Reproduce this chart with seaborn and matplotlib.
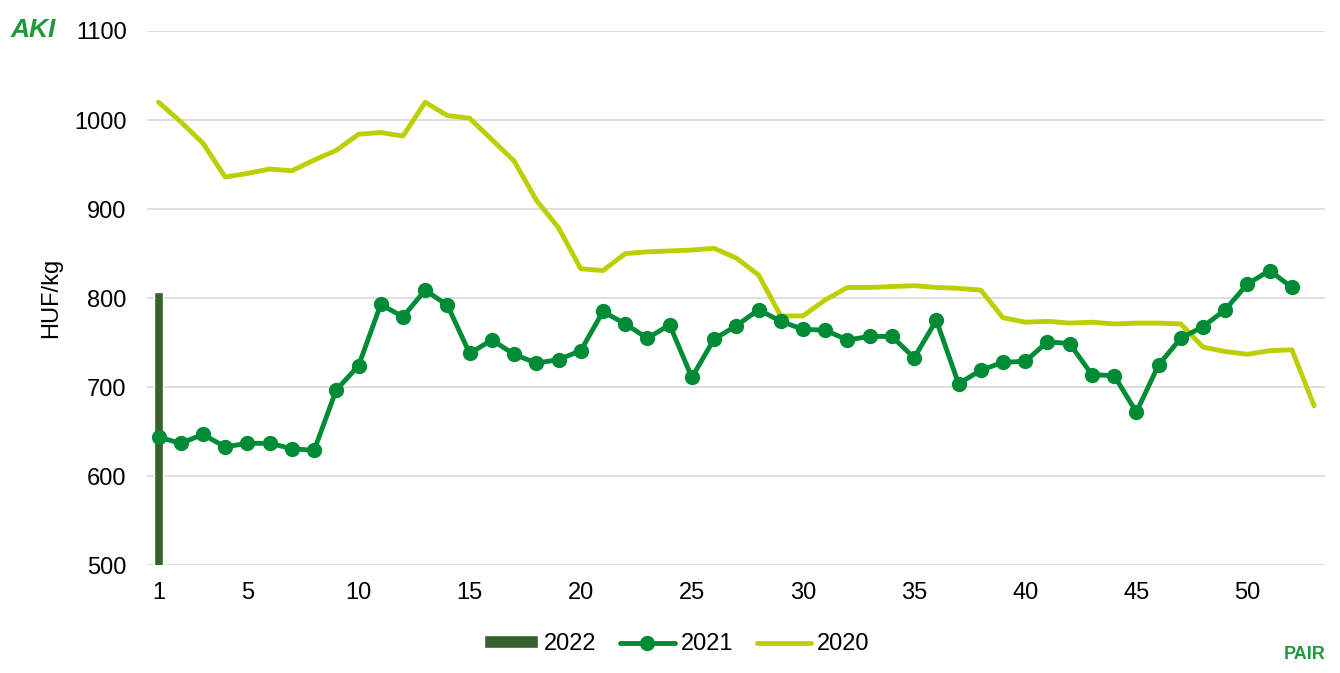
import matplotlib
matplotlib.use('Agg')
import matplotlib.pyplot as plt
import numpy as np
import pandas as pd
import seaborn as sns

weeks_2022 = [1]
price_2022 = [807]

weeks_2021 = list(range(1, 53))
price_2021 = [644, 637, 647, 633, 637, 637, 631, 629, 697, 724,
              793, 779, 809, 792, 738, 753, 737, 727, 731, 741,
              785, 771, 755, 770, 711, 754, 769, 787, 774, 765,
              764, 753, 757, 757, 733, 775, 704, 719, 728, 729,
              751, 749, 714, 713, 672, 725, 755, 768, 787, 816,
              831, 812]

weeks_2020 = list(range(1, 54))
price_2020 = [1020, 998, 974, 936, 940, 945, 943, 955, 966, 984,
              986, 982, 1020, 1005, 1002, 978, 954, 910, 879, 833,
              831, 850, 852, 853, 854, 856, 845, 826, 780, 780,
              798, 812, 812, 813, 814, 812, 811, 809, 778, 773,
              774, 772, 773, 771, 772, 772, 771, 745, 740, 737,
              741, 742, 679]

x_ticks = [1, 5, 10, 15, 20, 25, 30, 35, 40, 45, 50]
y_ticks = [500, 600, 700, 800, 900, 1000, 1100]

c2022 = '#37622C'
c2021 = '#008C37'
c2020 = '#BCCF02'

sns.set_style('white')
plt.rcParams['font.family'] = ['Liberation Sans', 'DejaVu Sans']
plt.rcParams['text.color'] = 'black'
plt.rcParams['xtick.color'] = 'black'
plt.rcParams['ytick.color'] = 'black'
plt.rcParams['axes.labelcolor'] = 'black'

df21 = pd.DataFrame({'week': weeks_2021, 'price': price_2021})
df20 = pd.DataFrame({'week': weeks_2020, 'price': price_2020})

fig = plt.figure(figsize=(13.4, 6.73), dpi=100)
ax = fig.add_axes([0.110, 0.160, 0.879, 0.794])

ax.bar(weeks_2022, price_2022, width=0.4, color=c2022, label='2022', zorder=3)
sns.lineplot(data=df21, x='week', y='price', ax=ax, color=c2021, linewidth=3.5,
             marker='o', markersize=11, markeredgewidth=0, label='2021', zorder=4)
sns.lineplot(data=df20, x='week', y='price', ax=ax, color=c2020, linewidth=3.5,
             label='2020', zorder=3)

ax.set_xlim(0.5, 53.5)
ax.set_ylim(500, 1100)
ax.set_xticks(x_ticks)
ax.set_yticks(y_ticks)
ax.grid(axis='y', color='#D9D9D9', linewidth=1.2, zorder=0)
ax.set_axisbelow(True)
for s in ax.spines.values():
    s.set_visible(False)
ax.tick_params(axis='y', length=0, pad=15, labelsize=17)
ax.tick_params(axis='x', length=0, pad=12, labelsize=17)
ax.set_xlabel('')
ax.set_ylabel('HUF/kg', fontsize=17)
ax.yaxis.set_label_coords(-0.072, 0.5)

handles, labels = ax.get_legend_handles_labels()
order = [labels.index(k) for k in ['2022', '2021', '2020']]
ax.legend_.remove()
fig.legend([handles[i] for i in order], [labels[i] for i in order],
           loc='center', bbox_to_anchor=(0.505, 0.043), ncol=3,
           frameon=False, fontsize=17, handlelength=2.3, handleheight=0.5,
           handletextpad=0.25, columnspacing=1.0)

fig.text(0.008, 0.955, 'AKI', color='#1E9A3A', fontsize=19, fontweight='bold',
         fontstyle='italic', va='center', ha='left')
fig.text(0.989, 0.028, 'PAIR', color='#1E9A3A', fontsize=13, fontweight='bold',
         va='center', ha='right')

fig.savefig('out.png', dpi=100)
